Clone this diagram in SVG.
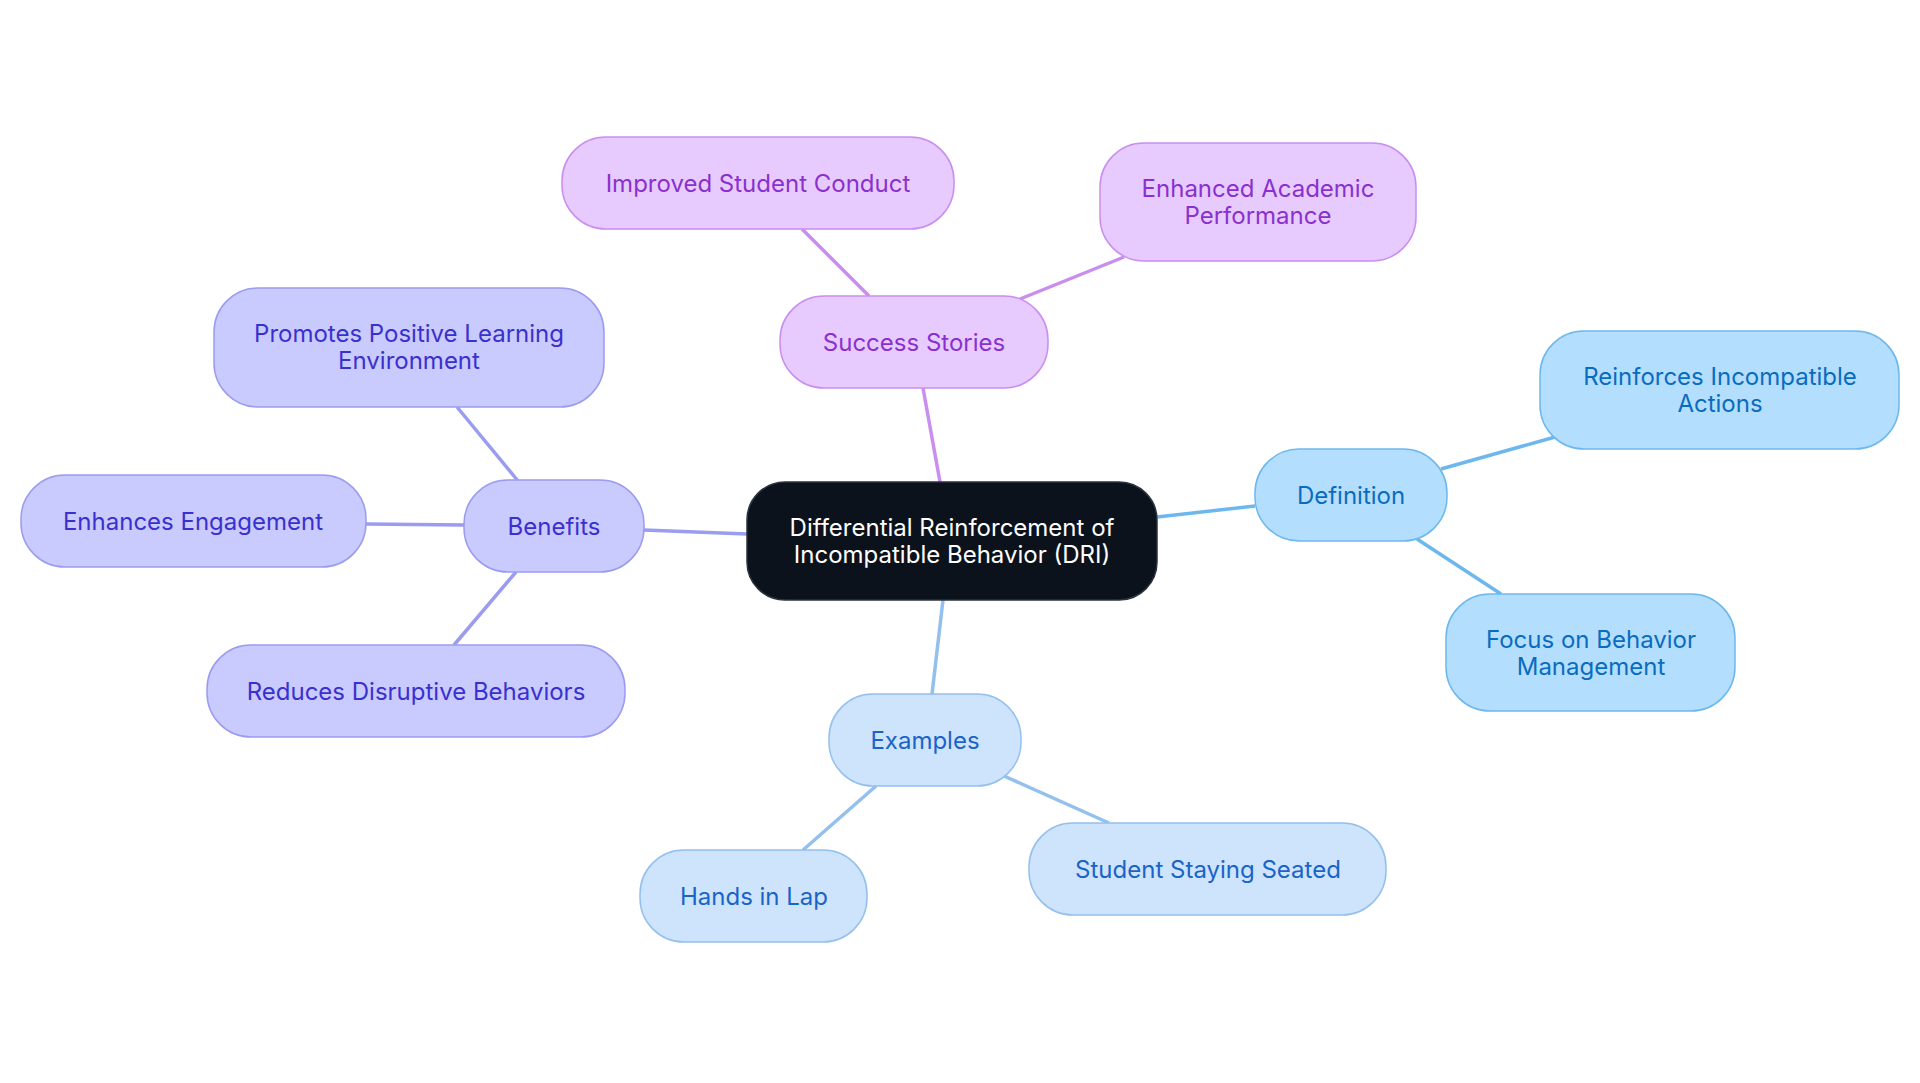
<svg xmlns="http://www.w3.org/2000/svg" width="1920" height="1083" viewBox="0 0 1920 1083">
<style>
text{font-family:Inter,"Noto Sans",sans-serif;font-size:24px;text-anchor:middle;dominant-baseline:central}
.c rect{fill:#0c121b;stroke:#2a3340;stroke-width:1.5}.c text{fill:#fff}
.s rect{fill:#e8cbfe;stroke:#c98ef0;stroke-width:1.5}.s text{fill:#8a30cf}
.b rect{fill:#c9cafe;stroke:#9a9cf0;stroke-width:1.5}.b text{fill:#3a30cf}
.d rect{fill:#b4defd;stroke:#6cb8ee;stroke-width:1.5}.d text{fill:#0a6cbf}
.e rect{fill:#cee3fc;stroke:#94c0ee;stroke-width:1.5}.e text{fill:#1a64c8}
#edges line{stroke-width:3.5;fill:none}
</style>
<rect width="1920" height="1083" fill="#fff"/>
<g id="edges">
<line x1="940" y1="482" x2="923" y2="388" stroke="#c98ef0"/>
<line x1="869" y1="296" x2="802" y2="229" stroke="#c98ef0"/>
<line x1="1020" y1="299" x2="1124" y2="257" stroke="#c98ef0"/>
<line x1="747" y1="534" x2="644" y2="530" stroke="#9a9cf0"/>
<line x1="518" y1="481" x2="457" y2="407" stroke="#9a9cf0"/>
<line x1="464" y1="525" x2="366" y2="524" stroke="#9a9cf0"/>
<line x1="516" y1="572" x2="454" y2="645" stroke="#9a9cf0"/>
<line x1="1157" y1="517" x2="1255" y2="506" stroke="#6cb8ee"/>
<line x1="1441" y1="469" x2="1555" y2="437" stroke="#6cb8ee"/>
<line x1="1417" y1="539" x2="1501" y2="594" stroke="#6cb8ee"/>
<line x1="943" y1="600" x2="932" y2="694" stroke="#94c0ee"/>
<line x1="876" y1="786" x2="803" y2="850" stroke="#94c0ee"/>
<line x1="1004" y1="776" x2="1109" y2="823" stroke="#94c0ee"/>
</g>
<g id="center" class="c"><rect x="747" y="482" width="410" height="118" rx="38"/><text x="952" y="527">Differential Reinforcement of</text><text x="952" y="554">Incompatible Behavior (DRI)</text></g>
<g id="success" class="s"><rect x="780" y="296" width="268" height="92" rx="44"/><text x="914" y="342">Success Stories</text></g>
<g id="improved" class="s"><rect x="562" y="137" width="392" height="92" rx="44"/><text x="758" y="183">Improved Student Conduct</text></g>
<g id="enhanced" class="s"><rect x="1100" y="143" width="316" height="118" rx="44"/><text x="1258" y="188">Enhanced Academic</text><text x="1258" y="215">Performance</text></g>
<g id="benefits" class="b"><rect x="464" y="480" width="180" height="92" rx="44"/><text x="554" y="526">Benefits</text></g>
<g id="promotes" class="b"><rect x="214" y="288" width="390" height="119" rx="44"/><text x="409" y="333">Promotes Positive Learning</text><text x="409" y="360">Environment</text></g>
<g id="engagement" class="b"><rect x="21" y="475" width="345" height="92" rx="44"/><text x="193" y="521">Enhances Engagement</text></g>
<g id="reduces" class="b"><rect x="207" y="645" width="418" height="92" rx="44"/><text x="416" y="691">Reduces Disruptive Behaviors</text></g>
<g id="definition" class="d"><rect x="1255" y="449" width="192" height="92" rx="44"/><text x="1351" y="495">Definition</text></g>
<g id="reinforces" class="d"><rect x="1540" y="331" width="359" height="118" rx="44"/><text x="1720" y="376">Reinforces Incompatible</text><text x="1720" y="403">Actions</text></g>
<g id="focus" class="d"><rect x="1446" y="594" width="289" height="117" rx="44"/><text x="1591" y="639">Focus on Behavior</text><text x="1591" y="666">Management</text></g>
<g id="examples" class="e"><rect x="829" y="694" width="192" height="92" rx="44"/><text x="925" y="740">Examples</text></g>
<g id="hands" class="e"><rect x="640" y="850" width="227" height="92" rx="44"/><text x="754" y="896">Hands in Lap</text></g>
<g id="seated" class="e"><rect x="1029" y="823" width="357" height="92" rx="44"/><text x="1208" y="869">Student Staying Seated</text></g>
</svg>
